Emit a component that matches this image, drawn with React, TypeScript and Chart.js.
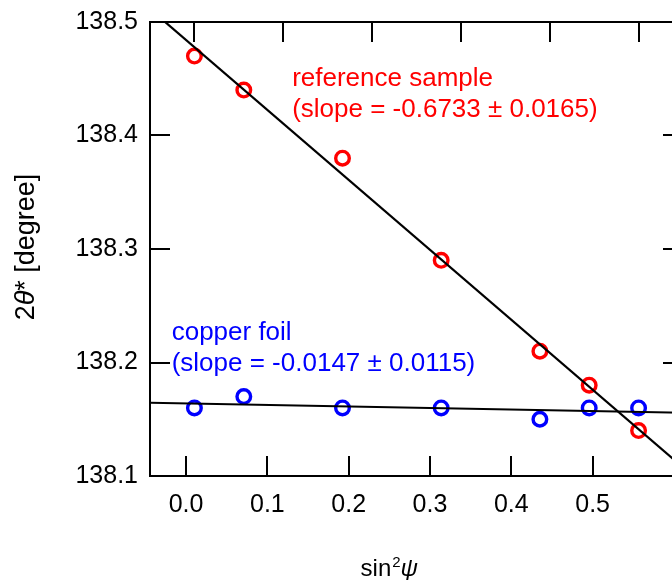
import React, { useEffect, useRef } from "react";
import { Chart, registerables } from "chart.js";

Chart.register(...registerables);

// ---- data ----
const sin2psi = [0, 0.0556, 0.1667, 0.2778, 0.3889, 0.4444, 0.5];
const referenceY = [138.47, 138.44, 138.38, 138.29, 138.21, 138.18, 138.14];
const copperY = [138.16, 138.17, 138.16, 138.16, 138.15, 138.16, 138.16];

const referenceSlope = -0.6733;
const referenceIntercept = 138.4778;
const copperSlope = -0.0147;
const copperIntercept = 138.1638;

const referenceLabel = ["reference sample", "(slope = -0.6733 \u00b1 0.0165)"];
const copperLabel = ["copper foil", "(slope = -0.0147 \u00b1 0.0115)"];

const yTickValues = [138.1, 138.2, 138.3, 138.4, 138.5];
const topTickValues = [0, 0.1, 0.2, 0.3, 0.4, 0.5];
const bottomTickValues = [0, 0.1, 0.2, 0.3, 0.4, 0.5];
const bottomTickLabels = ["0.0", "0.1", "0.2", "0.3", "0.4", "0.5"];

const X_MIN = -0.05;
const X_MAX = 0.55;
const Y_MIN = 138.1;
const Y_MAX = 138.5;

const FONT = "'Liberation Sans', Arial, Helvetica, sans-serif";

function fitLine(slope: number, intercept: number) {
  return [
    { x: X_MIN, y: intercept + slope * X_MIN },
    { x: X_MAX, y: intercept + slope * X_MAX },
  ];
}

const zeroPad = (s: any) => {
  s.paddingTop = 0;
  s.paddingBottom = 0;
  s.paddingLeft = 0;
  s.paddingRight = 0;
};

const decoPlugin = {
  id: "deco",
  afterDraw(chart: any) {
    const { ctx, chartArea: a, scales } = chart;
    ctx.save();
    ctx.strokeStyle = "#000";
    ctx.lineWidth = 2;
    ctx.strokeRect(a.left, a.top, a.right - a.left, a.bottom - a.top);
    const L = 20;
    ctx.beginPath();
    for (const v of bottomTickValues) {
      const p = Math.round(scales.x2.getPixelForValue(v));
      ctx.moveTo(p, a.bottom);
      ctx.lineTo(p, a.bottom - L);
    }
    for (const v of topTickValues) {
      const p = Math.round(scales.x.getPixelForValue(v));
      ctx.moveTo(p, a.top);
      ctx.lineTo(p, a.top + L);
    }
    for (const v of yTickValues) {
      const p = Math.round(scales.y.getPixelForValue(v));
      ctx.moveTo(a.left, p);
      ctx.lineTo(a.left + L, p);
      ctx.moveTo(a.right, p);
      ctx.lineTo(a.right - L, p);
    }
    ctx.stroke();

    // annotations
    ctx.font = `26px ${FONT}`;
    ctx.textBaseline = "alphabetic";
    ctx.textAlign = "left";
    const drawBlock = (lines: string[], x: number, y: number, color: string) => {
      ctx.fillStyle = color;
      const px = scales.x.getPixelForValue(x);
      const py = scales.y.getPixelForValue(y);
      lines.forEach((t, i) => ctx.fillText(t, px, py + i * 31));
    };
    drawBlock(referenceLabel, 0.11, 138.4436, "#ff0000");
    drawBlock(copperLabel, -0.0256, 138.2198, "#0000ff");

    // x-axis title: sin²ψ
    ctx.fillStyle = "#000";
    const xc =
      (scales.x2.getPixelForValue(bottomTickValues[0]) +
        scales.x2.getPixelForValue(bottomTickValues[bottomTickValues.length - 1])) /
      2;
    const ty = 576;
    ctx.font = `24px ${FONT}`;
    const w1 = ctx.measureText("sin").width;
    ctx.font = `15px ${FONT}`;
    const w2 = ctx.measureText("2").width;
    ctx.font = `italic 24px ${FONT}`;
    const w3 = ctx.measureText("\u03c8").width;
    let sx = xc - (w1 + w2 + 1 + w3) / 2;
    ctx.font = `24px ${FONT}`;
    ctx.fillText("sin", sx, ty);
    sx += w1 + 1;
    ctx.font = `15px ${FONT}`;
    ctx.fillText("2", sx, ty - 9);
    sx += w2;
    ctx.font = `italic 24px ${FONT}`;
    ctx.fillText("\u03c8", sx, ty);

    // y-axis title: 2θ* [degree]
    ctx.save();
    const yc = (a.top + a.bottom) / 2 - 2;
    ctx.translate(34, yc);
    ctx.rotate(-Math.PI / 2);
    const parts: [string, string][] = [
      ["2", `27px ${FONT}`],
      ["\u03b8", `italic 27px ${FONT}`],
      ["* [degree]", `27px ${FONT}`],
    ];
    let total = 0;
    for (const [t, f] of parts) {
      ctx.font = f;
      total += ctx.measureText(t).width;
    }
    let cx = -total / 2;
    for (const [t, f] of parts) {
      ctx.font = f;
      ctx.fillText(t, cx, 0);
      cx += ctx.measureText(t).width;
    }
    ctx.restore();
    ctx.restore();
  },
};

export default function App() {
  const ref = useRef<HTMLCanvasElement | null>(null);
  useEffect(() => {
    if (!ref.current) return;
    const chart = new Chart(ref.current, {
      type: "scatter",
      data: {
        datasets: [
          {
            type: "line",
            label: "reference fit",
            data: fitLine(referenceSlope, referenceIntercept),
            borderColor: "#000",
            borderWidth: 2.2,
            pointRadius: 0,
            xAxisID: "x",
            yAxisID: "y",
          } as any,
          {
            type: "line",
            label: "copper fit",
            data: fitLine(copperSlope, copperIntercept),
            borderColor: "#000",
            borderWidth: 2.2,
            pointRadius: 0,
            xAxisID: "x",
            yAxisID: "y",
          } as any,
          {
            label: "reference sample",
            data: sin2psi.map((x, i) => ({ x, y: referenceY[i] })),
            borderColor: "#ff0000",
            backgroundColor: "rgba(0,0,0,0)",
            pointRadius: 6.8,
            pointBorderWidth: 3.4,
            xAxisID: "x",
            yAxisID: "y",
          },
          {
            label: "copper foil",
            data: sin2psi.map((x, i) => ({ x, y: copperY[i] })),
            borderColor: "#0000ff",
            backgroundColor: "rgba(0,0,0,0)",
            pointRadius: 6.8,
            pointBorderWidth: 3.4,
            xAxisID: "x",
            yAxisID: "y",
          },
        ],
      },
      options: {
        animation: false,
        responsive: false,
        devicePixelRatio: 1,
        layout: { padding: { left: 0, right: 17, top: 0, bottom: 0 } },
        plugins: { legend: { display: false }, tooltip: { enabled: false } },
        scales: {
          x: {
            type: "linear",
            position: "top",
            min: X_MIN,
            max: X_MAX,
            ticks: { display: false },
            grid: { display: false, drawTicks: false },
            border: { display: false },
            afterFit: (s: any) => {
              s.height = 22;
              zeroPad(s);
            },
          },
          x2: {
            type: "linear",
            position: "bottom",
            min: -0.0443,
            max: 0.6111,
            afterBuildTicks: (s: any) => {
              s.ticks = bottomTickValues.map((v) => ({ value: v }));
            },
            ticks: {
              color: "#000",
              font: { size: 25, family: FONT },
              padding: 14,
              maxRotation: 0,
              autoSkip: false,
              callback: (_v: any, i: number) => bottomTickLabels[i],
            },
            grid: { display: false, drawTicks: false },
            border: { display: false },
            afterFit: (s: any) => {
              s.height = 104;
              zeroPad(s);
            },
          },
          y: {
            type: "linear",
            min: Y_MIN,
            max: Y_MAX,
            afterBuildTicks: (s: any) => {
              s.ticks = yTickValues.map((v) => ({ value: v }));
            },
            ticks: {
              color: "#000",
              font: { size: 25, family: FONT },
              padding: 12,
              autoSkip: false,
              callback: (v: any) => Number(v).toFixed(1),
            },
            grid: { display: false, drawTicks: false },
            border: { display: false },
            afterFit: (s: any) => {
              s.width = 150;
              zeroPad(s);
            },
          },
        },
      } as any,
      plugins: [decoPlugin],
    });
    return () => chart.destroy();
  }, []);

  return (
    <div
      style={{
        position: "fixed",
        left: 0,
        top: 0,
        width: 672,
        height: 580,
        overflow: "hidden",
        background: "#fff",
      }}
    >
      <canvas ref={ref} width={700} height={580} style={{ display: "block" }} />
    </div>
  );
}
